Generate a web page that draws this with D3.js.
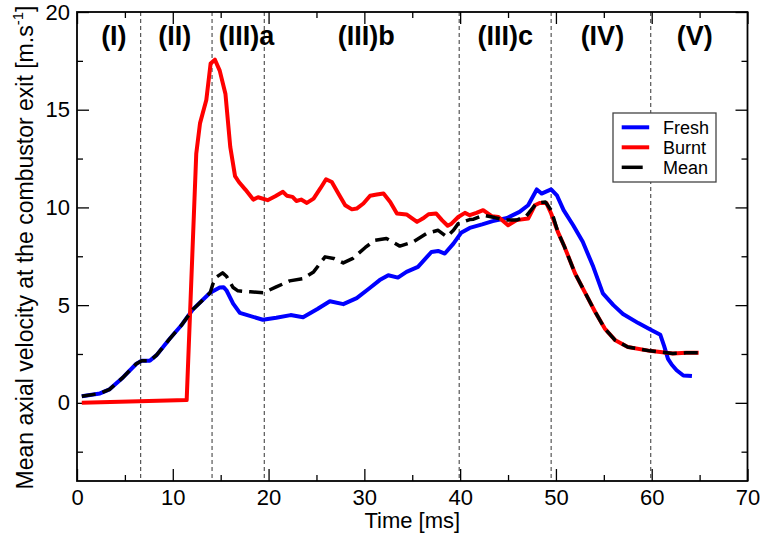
<!DOCTYPE html>
<html>
<head>
<meta charset="utf-8">
<script src="https://cdn.jsdelivr.net/npm/d3@7"></script>
<style>
  html, body { margin: 0; padding: 0; background: #fff; }
  svg { display: block; font-family: "Liberation Sans", Arial, Helvetica, sans-serif; }
</style>
</head>
<body>
<svg id="chart" width="762" height="538"></svg>
<script>
// ---------- data ----------
const freshTime = [0.5, 2.4, 3.4, 4.8, 6.2, 6.75, 7.6, 8.3, 9.7, 10.9, 12.1, 13.9, 14.9, 15.3, 15.6, 16.3, 17.0, 17.7, 19.4, 20.8, 22.3, 23.6, 25.1, 26.4, 27.8, 29.2, 30.5, 31.6, 32.5, 33.5, 34.4, 35.6, 37.0, 37.7, 38.4, 39.3, 40.1, 41.0, 42.3, 43.4, 44.9, 46.2, 47.1, 48.0, 48.5, 49.5, 50.1, 50.8, 51.8, 52.8, 53.9, 54.9, 56.0, 57.0, 58.6, 59.8, 60.9, 61.3, 61.7, 62.1, 62.6, 63.3, 64.2];
const freshVel  = [0.34, 0.48, 0.69, 1.3, 2.0, 2.15, 2.15, 2.44, 3.29, 3.97, 4.78, 5.63, 5.9, 5.92, 5.76, 5.08, 4.6, 4.5, 4.25, 4.35, 4.49, 4.38, 4.8, 5.2, 5.05, 5.36, 5.85, 6.28, 6.53, 6.41, 6.7, 6.96, 7.72, 7.77, 7.64, 8.15, 8.7, 8.95, 9.13, 9.3, 9.46, 9.77, 10.11, 10.92, 10.71, 10.92, 10.62, 9.86, 9.09, 8.24, 6.96, 5.6, 5.0, 4.55, 4.08, 3.76, 3.48, 2.9, 2.25, 1.95, 1.67, 1.4, 1.37];

const burntTime = [0.5, 11.45, 12.45, 12.84, 13.5, 13.95, 14.4, 14.9, 15.5, 16.0, 16.5, 16.9, 17.6, 18.4, 18.9, 19.9, 20.7, 21.5, 21.9, 22.5, 22.9, 23.4, 24.0, 24.7, 25.4, 26.0, 26.6, 27.3, 28.0, 28.7, 29.2, 29.9, 30.6, 31.3, 32.0, 32.7, 33.4, 34.4, 35.5, 36.1, 36.7, 37.5, 38.1, 38.7, 39.1, 39.8, 40.5, 41.0, 41.7, 42.4, 43.3, 44.0, 45.0, 45.9, 47.1, 47.8, 48.3, 49.0, 49.5, 50.2, 50.9, 52.0, 53.0, 54.1, 55.1, 56.2, 57.5, 59.8, 62.2, 63.6, 64.9];
const burntVel  = [0, 0.14, 12.75, 14.3, 15.5, 17.36, 17.56, 17.0, 15.8, 13.1, 11.6, 11.3, 10.9, 10.4, 10.52, 10.37, 10.57, 10.8, 10.6, 10.54, 10.33, 10.4, 10.23, 10.45, 10.97, 11.44, 11.3, 10.7, 10.11, 9.9, 9.94, 10.2, 10.6, 10.66, 10.71, 10.28, 9.69, 9.64, 9.26, 9.43, 9.65, 9.69, 9.35, 9.06, 9.17, 9.51, 9.72, 9.6, 9.72, 9.86, 9.55, 9.51, 9.09, 9.35, 9.43, 10.11, 10.23, 10.23, 9.69, 8.75, 7.98, 6.62, 5.68, 4.65, 3.8, 3.2, 2.86, 2.66, 2.53, 2.56, 2.56];

const meanTime = [0.5, 2.4, 3.4, 4.8, 6.2, 6.75, 7.6, 8.3, 9.7, 10.9, 12.1, 13.9, 14.2, 14.6, 15.2, 15.6, 16.3, 16.8, 18.1, 19.45, 20.8, 22.2, 23.6, 24.7, 25.9, 26.8, 27.8, 28.8, 30.1, 31.1, 32.3, 33.7, 35.1, 36.5, 37.7, 38.6, 39.3, 39.8, 40.3, 41.0, 41.4, 42.4, 43.6, 44.7, 45.9, 46.9, 48.0, 48.9, 49.5, 50.2, 50.9, 52.0, 53.0, 54.1, 55.1, 56.2, 57.5, 59.8, 62.2, 63.6, 64.9];
const meanVel  = [0.34, 0.48, 0.69, 1.3, 2.0, 2.15, 2.15, 2.44, 3.29, 3.97, 4.78, 5.63, 6.1, 6.45, 6.65, 6.48, 5.9, 5.73, 5.68, 5.63, 5.93, 6.24, 6.36, 6.7, 7.47, 7.39, 7.16, 7.39, 7.95, 8.32, 8.41, 8.02, 8.24, 8.67, 8.83, 8.5, 8.83, 9.17, 9.26, 9.38, 9.4, 9.6, 9.48, 9.35, 9.35, 9.55, 10.23, 10.28, 9.86, 8.75, 7.98, 6.62, 5.68, 4.65, 3.8, 3.2, 2.86, 2.66, 2.53, 2.56, 2.56];

const phaseBounds = [6.65, 14.1, 19.55, 39.9, 49.5, 59.9];
const phaseLabels = ["(I)", "(II)", "(III)a", "(III)b", "(III)c", "(IV)", "(V)"];
const phaseLabelTimes = [3.85, 10.2, 17.7, 30.2, 44.7, 54.85, 64.5];

const xMajorTicks = [0, 10, 20, 30, 40, 50, 60, 70];
const xMinorTicks = [5, 15, 25, 35, 45, 55, 65];
const yMajorTicks = [0, 5, 10, 15, 20];
const yMinorTicks = [-2.5, 2.5, 7.5, 12.5, 17.5];

const seriesNames = ["Fresh", "Burnt", "Mean"];

// ---------- layout ----------
const svg = d3.select("#chart");
const L = 77, R = 747.5, T = 12, B = 481;
const x = d3.scaleLinear().domain([0, 70]).range([L, R]);
const y = d3.scaleLinear().domain([-4, 20]).range([B, T]);

const FONT = 22;

// region boundaries
svg.append("g").selectAll("line").data(phaseBounds).join("line")
  .attr("x1", d => x(d)).attr("x2", d => x(d))
  .attr("y1", T).attr("y2", B)
  .attr("stroke", "#333").attr("stroke-width", 1)
  .attr("stroke-dasharray", "4,3");

// axes
function styleAxis(g) {
  g.select(".domain").remove();
  g.selectAll(".tick line").attr("stroke", "#000").attr("stroke-width", 1.3);
  g.selectAll(".tick text").attr("font-size", FONT).attr("fill", "#000")
    .attr("font-family", '"Liberation Sans", Arial, Helvetica, sans-serif');
}
svg.append("g").attr("transform", `translate(0,${B})`)
  .call(d3.axisBottom(x).tickValues(xMajorTicks).tickSize(-12).tickPadding(8).tickFormat(d3.format("d")))
  .call(styleAxis);
svg.append("g").attr("transform", `translate(0,${B})`)
  .call(d3.axisBottom(x).tickValues(xMinorTicks).tickSize(-6).tickFormat(""))
  .call(styleAxis);
svg.append("g").attr("transform", `translate(0,${T})`)
  .call(d3.axisTop(x).tickValues(xMajorTicks).tickSize(-12).tickFormat(""))
  .call(styleAxis);
svg.append("g").attr("transform", `translate(0,${T})`)
  .call(d3.axisTop(x).tickValues(xMinorTicks).tickSize(-6).tickFormat(""))
  .call(styleAxis);
svg.append("g").attr("transform", `translate(${L},0)`)
  .call(d3.axisLeft(y).tickValues(yMajorTicks).tickSize(-12).tickPadding(7).tickFormat(d3.format("d")))
  .call(styleAxis);
svg.append("g").attr("transform", `translate(${L},0)`)
  .call(d3.axisLeft(y).tickValues(yMinorTicks).tickSize(-6).tickFormat(""))
  .call(styleAxis);
svg.append("g").attr("transform", `translate(${R},0)`)
  .call(d3.axisRight(y).tickValues(yMajorTicks).tickSize(-12).tickFormat(""))
  .call(styleAxis);
svg.append("g").attr("transform", `translate(${R},0)`)
  .call(d3.axisRight(y).tickValues(yMinorTicks).tickSize(-6).tickFormat(""))
  .call(styleAxis);

// frame
svg.append("rect").attr("x", L).attr("y", T).attr("width", R - L).attr("height", B - T)
  .attr("fill", "none").attr("stroke", "#000").attr("stroke-width", 1.8);

// curves
const line = d3.line().x(d => x(d[0])).y(d => y(d[1]));
const fresh = freshTime.map((t, i) => [t, freshVel[i]]);
const burnt = burntTime.map((t, i) => [t, burntVel[i]]);
const mean = meanTime.map((t, i) => [t, meanVel[i]]);

svg.append("path").datum(fresh).attr("d", line)
  .attr("fill", "none").attr("stroke", "#0000ff").attr("stroke-width", 4)
  .attr("stroke-linejoin", "round");
svg.append("path").datum(burnt).attr("d", line)
  .attr("fill", "none").attr("stroke", "#ff0000").attr("stroke-width", 4)
  .attr("stroke-linejoin", "round");
svg.append("path").datum(mean).attr("d", line)
  .attr("fill", "none").attr("stroke", "#000").attr("stroke-width", 3.5)
  .attr("stroke-dasharray", "14,7").attr("stroke-linejoin", "round");

// phase labels
svg.append("g").selectAll("text").data(phaseLabels).join("text")
  .attr("x", (d, i) => x(phaseLabelTimes[i])).attr("y", 45)
  .attr("text-anchor", "middle").attr("font-size", 27).attr("font-weight", "bold")
  .text(d => d);

// axis titles
svg.append("text").attr("x", (L + R) / 2).attr("y", 528)
  .attr("text-anchor", "middle").attr("font-size", FONT).text("Time [ms]");

const yl = svg.append("text")
  .attr("transform", `translate(33,${(T + B) / 2 + 1}) rotate(-90)`)
  .attr("text-anchor", "middle").attr("font-size", 23);
yl.append("tspan").text("Mean axial velocity at the combustor exit [m.s");
yl.append("tspan").attr("font-size", 15).attr("dy", -10).text("-1");
yl.append("tspan").attr("dy", 10).text("]");

// legend
const lg = svg.append("g");
lg.append("rect").attr("x", 613).attr("y", 113).attr("width", 103).attr("height", 69)
  .attr("fill", "#fff").attr("stroke", "#444").attr("stroke-width", 1.3);
const legColors = ["#0000ff", "#ff0000", "#000"];
const legLens = [27.5, 27.5, 21];
seriesNames.forEach((name, i) => {
  const ly = 127.3 + i * 20;
  lg.append("line").attr("x1", 621.7).attr("x2", 621.7 + legLens[i])
    .attr("y1", ly).attr("y2", ly)
    .attr("stroke", legColors[i]).attr("stroke-width", i === 2 ? 3.5 : 4);
  lg.append("text").attr("x", 663).attr("y", ly + 6.3)
    .attr("font-size", 18).text(name);
});
</script>
</body>
</html>
